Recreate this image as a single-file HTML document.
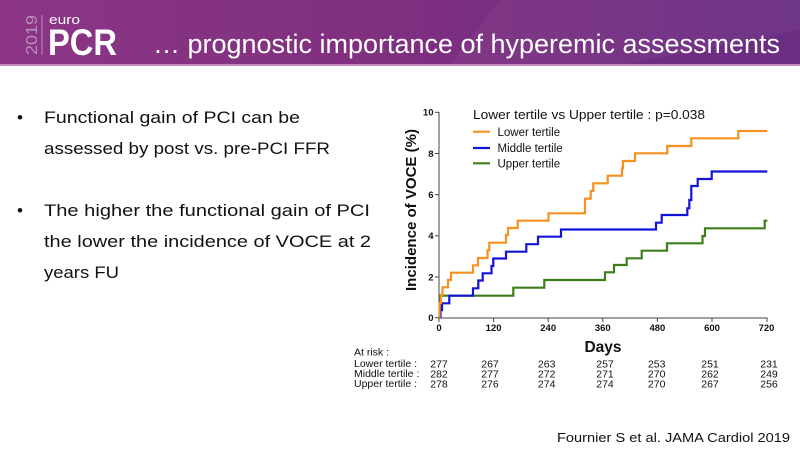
<!DOCTYPE html>
<html><head><meta charset="utf-8"><style>
html,body{margin:0;padding:0;background:#fff;}
svg{display:block;}
</style></head><body>
<svg width="800" height="450" viewBox="0 0 800 450" xmlns="http://www.w3.org/2000/svg">
<defs>
<linearGradient id="hdr" x1="0" y1="0" x2="1" y2="0">
<stop offset="0" stop-color="#8c3587"/>
<stop offset="0.45" stop-color="#80307f"/>
<stop offset="0.75" stop-color="#742d82"/>
<stop offset="1" stop-color="#6a2d82"/>
</linearGradient>
</defs>
<rect x="0" y="0" width="800" height="450" fill="#fff"/>
<rect x="0" y="0" width="800" height="65" fill="url(#hdr)"/>
<polygon points="500,0 800,0 800,30 620,65 450,65" fill="#ffffff" opacity="0.04"/>
<rect x="0" y="64" width="800" height="2" fill="#c78cc2"/>
<!-- logo -->
<text x="0" y="0" transform="translate(37,35) rotate(-90)" text-anchor="middle" font-family="Liberation Sans, sans-serif" font-size="16" fill="#b891b8" textLength="40" lengthAdjust="spacingAndGlyphs">2019</text>
<rect x="41.5" y="15" width="1" height="40" fill="#b891b8"/>
<text x="49" y="24" font-family="Liberation Sans, sans-serif" font-size="13" fill="#fff" textLength="31" lengthAdjust="spacingAndGlyphs">euro</text>
<text x="48" y="55" font-family="Liberation Sans, sans-serif" font-size="37" font-weight="bold" fill="#fff" textLength="69" lengthAdjust="spacingAndGlyphs">PCR</text>
<text x="153" y="53" font-family="Liberation Sans, sans-serif" font-size="27" fill="#fff" textLength="627" lengthAdjust="spacingAndGlyphs">… prognostic importance of hyperemic assessments</text>

<!-- bullets -->
<g font-family="Liberation Sans, sans-serif" font-size="17" fill="#111">
<text x="17" y="123">•</text>
<text x="44" y="123" textLength="256" lengthAdjust="spacingAndGlyphs">Functional gain of PCI can be</text>
<text x="44" y="154" textLength="286" lengthAdjust="spacingAndGlyphs">assessed by post vs. pre-PCI FFR</text>
<text x="17" y="216">•</text>
<text x="44" y="216" textLength="326" lengthAdjust="spacingAndGlyphs">The higher the functional gain of PCI</text>
<text x="44" y="247" textLength="327" lengthAdjust="spacingAndGlyphs">the lower the incidence of VOCE at 2</text>
<text x="44" y="278" textLength="75" lengthAdjust="spacingAndGlyphs">years FU</text>
</g>

<!-- chart axes -->
<g stroke="#444" stroke-width="1" fill="none">
<line x1="439" y1="112" x2="439" y2="318"/>
<line x1="439" y1="318" x2="767.5" y2="318"/>
<line x1="435" y1="317.7" x2="439" y2="317.7"/>
<line x1="435" y1="277" x2="439" y2="277"/>
<line x1="435" y1="235.8" x2="439" y2="235.8"/>
<line x1="435" y1="194.7" x2="439" y2="194.7"/>
<line x1="435" y1="153.5" x2="439" y2="153.5"/>
<line x1="435" y1="112.3" x2="439" y2="112.3"/>
<line x1="439" y1="318" x2="439" y2="322"/>
<line x1="493.6" y1="318" x2="493.6" y2="322"/>
<line x1="548.2" y1="318" x2="548.2" y2="322"/>
<line x1="602.8" y1="318" x2="602.8" y2="322"/>
<line x1="657.4" y1="318" x2="657.4" y2="322"/>
<line x1="712" y1="318" x2="712" y2="322"/>
<line x1="767" y1="318" x2="767" y2="322"/>
</g>
<g font-family="Liberation Sans, sans-serif" font-size="9.5" font-weight="bold" fill="#111" text-anchor="end">
<text x="433.5" y="321">0</text>
<text x="433.5" y="280.3">2</text>
<text x="433.5" y="239.1">4</text>
<text x="433.5" y="198">6</text>
<text x="433.5" y="156.8">8</text>
<text x="433.5" y="115.6">10</text>
</g>
<g font-family="Liberation Sans, sans-serif" font-size="9.5" font-weight="bold" fill="#111" text-anchor="middle">
<text x="439" y="331">0</text>
<text x="493.6" y="331">120</text>
<text x="548.2" y="331">240</text>
<text x="602.8" y="331">360</text>
<text x="657.4" y="331">480</text>
<text x="712" y="331">600</text>
<text x="766.5" y="331">720</text>
</g>
<text x="603" y="352" text-anchor="middle" font-family="Liberation Sans, sans-serif" font-size="15.5" font-weight="bold" fill="#111">Days</text>
<text x="0" y="0" transform="translate(416,210) rotate(-90)" text-anchor="middle" font-family="Liberation Sans, sans-serif" font-size="14.5" font-weight="bold" fill="#111" textLength="162" lengthAdjust="spacingAndGlyphs">Incidence of VOCE (%)</text>

<!-- legend -->
<text x="473" y="119" font-family="Liberation Sans, sans-serif" font-size="13" fill="#111" textLength="232" lengthAdjust="spacingAndGlyphs">Lower tertile vs Upper tertile : p=0.038</text>
<line x1="473" y1="131.7" x2="490" y2="131.7" stroke="#f7901e" stroke-width="2.2"/>
<line x1="473" y1="148" x2="490" y2="148" stroke="#1414d8" stroke-width="2.2"/>
<line x1="473" y1="163.3" x2="490" y2="163.3" stroke="#3b7e1b" stroke-width="2.2"/>
<g font-family="Liberation Sans, sans-serif" font-size="11.5" fill="#111">
<text x="497.5" y="135.8">Lower tertile</text>
<text x="497.5" y="152.2">Middle tertile</text>
<text x="497.5" y="167.4">Upper tertile</text>
</g>

<!-- curves -->
<g fill="none" stroke-width="2.2" stroke-linejoin="miter">
<path stroke="#3b7e1b" d="M440,317.7 V295.7 H513.3 V287.7 H544.3 V280 H605 V272.3 H614 V265 H626.7 V258.3 H641.7 V250.7 H667 V243.3 H702.5 V236 H705 V228.3 H764.7 V220.7 H767.3"/>
<path stroke="#1414d8" d="M440.5,317.7 V310 H442 V303.3 H449.3 V295.7 H473 V288.3 H478.3 V280.5 H482.7 V273.3 H491.5 V266 H493.3 V258.5 H506 V251.7 H526.3 V244.2 H538 V236.7 H561 V229.5 H656 V222.7 H661.7 V215 H687.3 V208.3 H689.3 V200 H691.3 V186 H697.7 V179 H711.7 V171.5 H767.3"/>
<path stroke="#f7901e" d="M439.5,317.7 V303 H441 V295 H442.5 V287.3 H448 V280 H451 V272.7 H473 V265.3 H478 V258 H487.5 V250.3 H489.3 V242.7 H506 V235 H508 V228 H517.7 V220.7 H548.5 V213.3 H585 V198.7 H590.7 V191 H593.3 V183.3 H607.7 V175.7 H622 V168.3 H623 V161 H635 V153.3 H667.3 V146 H691.3 V138.3 H738.3 V131 H767.3"/>
</g>

<!-- at risk -->
<g font-family="Liberation Sans, sans-serif" font-size="10.5" fill="#111">
<text x="354" y="355.5">At risk :</text>
<text x="354" y="367">Lower tertile :</text>
<text x="354" y="377">Middle tertile :</text>
<text x="354" y="387">Upper tertile :</text>
</g>
<g font-family="Liberation Sans, sans-serif" font-size="10.5" fill="#111" text-anchor="middle">
<text x="439" y="367.5">277</text><text x="490" y="367.5">267</text><text x="546.7" y="367.5">263</text><text x="605" y="367.5">257</text><text x="656.7" y="367.5">253</text><text x="710" y="367.5">251</text><text x="769" y="367.5">231</text>
<text x="439" y="377.5">282</text><text x="490" y="377.5">277</text><text x="546.7" y="377.5">272</text><text x="605" y="377.5">271</text><text x="656.7" y="377.5">270</text><text x="710" y="377.5">262</text><text x="769" y="377.5">249</text>
<text x="439" y="387.5">278</text><text x="490" y="387.5">276</text><text x="546.7" y="387.5">274</text><text x="605" y="387.5">274</text><text x="656.7" y="387.5">270</text><text x="710" y="387.5">267</text><text x="769" y="387.5">256</text>
</g>

<text x="557" y="442" font-family="Liberation Sans, sans-serif" font-size="13" fill="#111" textLength="233" lengthAdjust="spacingAndGlyphs">Fournier S et al. JAMA Cardiol 2019</text>
</svg>
</body></html>
